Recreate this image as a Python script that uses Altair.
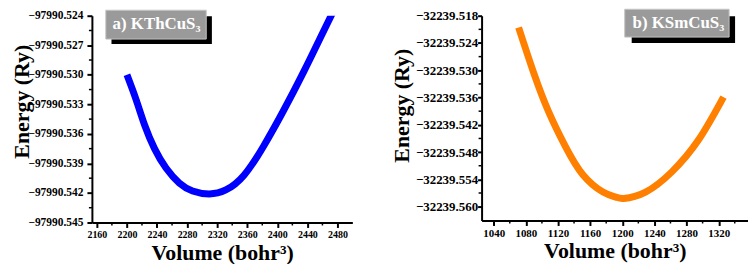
import altair as alt
import pandas as pd

# ---- Panel a) KThCuS3 ----
a_volume = [2200, 2212.5, 2223.5, 2236.7, 2252.2, 2269.7, 2287.3, 2309.4, 2331.5,
            2355.7, 2382.1, 2408.5, 2435, 2460, 2478]
a_energy = [-97990.5300, -97990.5326, -97990.5351, -97990.5375, -97990.5395, -97990.5410,
            -97990.5418, -97990.5421, -97990.5417, -97990.5402, -97990.5372, -97990.5336,
            -97990.5297, -97990.5258, -97990.5230]
a_x_ticks = [2160, 2200, 2240, 2280, 2320, 2360, 2400, 2440, 2480]
a_x_minor = [2180, 2220, 2260, 2300, 2340, 2380, 2420, 2460]
a_y_ticks = [-97990.545, -97990.542, -97990.539, -97990.536, -97990.533,
             -97990.530, -97990.527, -97990.524]
a_y_minor = [-97990.5435, -97990.5405, -97990.5375, -97990.5345,
             -97990.5315, -97990.5285, -97990.5255]
a_label = "a) KThCuS₃"

# ---- Panel b) KSmCuS3 ----
b_volume = [1071, 1090, 1108, 1129, 1151, 1176, 1192, 1202, 1229, 1262, 1295, 1326]
b_energy = [-32239.5206, -32239.5307, -32239.5390, -32239.5467, -32239.5530, -32239.5568,
            -32239.5579, -32239.5582, -32239.5568, -32239.5523, -32239.5453, -32239.5359]
b_x_ticks = [1040, 1080, 1120, 1160, 1200, 1240, 1280, 1320]
b_x_minor = [1060, 1100, 1140, 1180, 1220, 1260, 1300, 1340]
b_y_ticks = [-32239.560, -32239.554, -32239.548, -32239.542, -32239.536,
             -32239.530, -32239.524, -32239.518]
b_y_minor = [-32239.557, -32239.551, -32239.545, -32239.539,
             -32239.533, -32239.527, -32239.521]
b_label = "b) KSmCuS₃"

FONT = "Liberation Serif"


def panel(vol, en, color, xdom, ydom, xticks, xminor, yticks, yminor, w, h, label,
          ylab_size, xlab_size, ylab_pad, ytick_size, ytitle_x, ytitle_y,
          box, shadow, text_xy):
    df = pd.DataFrame({"V": vol, "E": en})
    xs = alt.Scale(domain=xdom, nice=False, zero=False)
    ys = alt.Scale(domain=ydom, nice=False, zero=False)
    xax = alt.Axis(
        values=xticks, format="d", title="Volume (bohr³)",
        labelFontSize=xlab_size, labelPadding=2, tickSize=5,
        titleFontSize=22, titleBaseline="alphabetic", titleY=37,
        titleX=w / 2, titleAlign="center")
    yax = alt.Axis(
        values=yticks, format=".3f", title="Energy (Ry)",
        labelFontSize=ylab_size, labelPadding=ylab_pad, tickSize=ytick_size,
        titleFontSize=22, titleAngle=270, titleBaseline="alphabetic",
        titleAlign="center", titleX=ytitle_x, titleY=ytitle_y)
    X = alt.X("V:Q", scale=xs, axis=xax)
    Y = alt.Y("E:Q", scale=ys, axis=yax)
    line = alt.Chart(df).mark_line(
        color=color, strokeWidth=7, interpolate="natural", clip=True, strokeCap="butt"
    ).encode(x=X, y=Y)
    ymin = alt.Chart(pd.DataFrame({"E": yminor})).mark_rule(
        color="black", strokeWidth=1.5
    ).encode(y=Y, x=alt.value(0), x2=alt.value(-3))
    xmin = alt.Chart(pd.DataFrame({"V": xminor})).mark_rule(
        color="black", strokeWidth=1.5
    ).encode(x=X, y=alt.value(h), y2=alt.value(h + 3))
    tdf = pd.DataFrame({"t": [label]})
    sh = alt.Chart(tdf).mark_rect(color="black").encode(
        x=alt.value(shadow[0]), x2=alt.value(shadow[1]),
        y=alt.value(shadow[2]), y2=alt.value(shadow[3]))
    bx = alt.Chart(tdf).mark_rect(color="#9a9a9a", stroke="#c4c4c4", strokeWidth=1).encode(
        x=alt.value(box[0]), x2=alt.value(box[1]),
        y=alt.value(box[2]), y2=alt.value(box[3]))
    tx = alt.Chart(tdf).mark_text(
        font=FONT, fontSize=17, fontWeight="bold", color="white",
        align="center", baseline="middle"
    ).encode(x=alt.value(text_xy[0]), y=alt.value(text_xy[1]), text="t:N")
    return alt.layer(line, ymin, xmin, sh, bx, tx).properties(width=w, height=h)


left = panel(a_volume, a_energy, "#0000ff", [2153.4, 2499.8], [-97990.545, -97990.524],
             a_x_ticks, a_x_minor, a_y_ticks, a_y_minor, 262, 208, a_label,
             11.5, 10, 4, 5, -64, 86,
             box=[14, 115, -5.5, 23.5], shadow=[19.7, 120.7, 0.5, 28.5], text_xy=[65, 8.3])

right = panel(b_volume, b_energy, "#ff8000", [1024.9, 1356.5], [-32239.56305, -32239.518],
              b_x_ticks, b_x_minor, b_y_ticks, b_y_minor, 268, 206, b_label,
              13, 11, 0, 4, -74, 90,
              box=[144, 249, -6.5, 21.5], shadow=[151, 255, 0.5, 27.5], text_xy=[198, 7])

chart = alt.hconcat(left, right, spacing=130, bounds="flush").properties(
    padding={"left": 2.4, "top": 0, "right": 0, "bottom": 0}
).configure_view(stroke=None).configure_axis(
    grid=False, domainColor="black", domainWidth=2, tickColor="black", tickWidth=2,
    labelFont=FONT, labelFontWeight="bold", labelColor="black",
    titleFont=FONT, titleFontWeight="bold", titleColor="black",
)

chart.save("out.html", embed_options={"renderer": "svg", "actions": False})
